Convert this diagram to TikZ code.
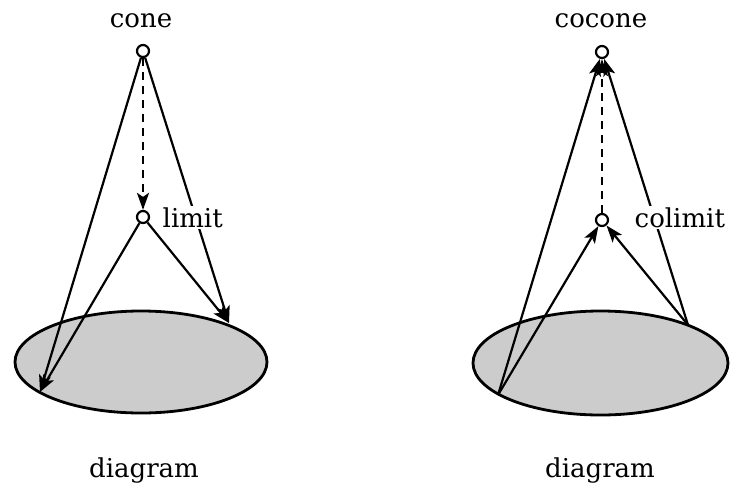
\documentclass[tikz,border=0pt]{standalone}
\usepackage{fontspec}
\setmainfont{DejaVu Serif}
\usetikzlibrary{arrows.meta}
\begin{document}
\begin{tikzpicture}[x=1pt,y=-1pt,
  dot/.style={circle,draw,line width=2.2pt,fill=white,minimum size=12pt,inner sep=0pt},
  blob/.style={draw,line width=2.8pt,fill=black!20},
  edge/.style={line width=2.2pt},
  arr/.style={edge,-{Stealth[length=17pt,width=12pt,inset=4pt]}},
  lbl/.style={font=\fontsize{26}{31}\selectfont,inner sep=1.5pt},
  wlbl/.style={lbl,fill=white}]
\useasboundingbox (0,0) rectangle (739,488);
% left: cone / limit
\draw[blob] (141,362) ellipse [x radius=126, y radius=51];
\node[dot] (cone) at (143,51) {};
\node[dot] (limit) at (143,217) {};
\coordinate (l1) at (40,392);
\coordinate (l2) at (229,323);
\draw[arr] (cone) -- (l1);
\draw[arr] (cone) -- (l2);
\draw[arr] (limit) -- (l1);
\draw[arr] (limit) -- (l2);
\draw[arr,dash pattern=on 8pt off 6pt] (cone) -- (limit);
\node[lbl,anchor=base] (conet) at (141,27) {cone};
\node[wlbl,anchor=base west] (limitt) at (161,227) {limit};
\node[lbl,anchor=base] (diag1) at (144,477) {diagram};
% right: cocone / colimit
\draw[blob] (600.5,363) ellipse [x radius=127.5, y radius=52];
\node[dot] (cocone) at (602,52) {};
\node[dot] (colimit) at (602,220) {};
\coordinate (r1) at (498,395);
\coordinate (r2) at (688,325);
\draw[arr] (r1) -- (cocone);
\draw[arr] (r2) -- (cocone);
\draw[arr] (r1) -- (colimit);
\draw[arr] (r2) -- (colimit);
\draw[arr,dash pattern=on 8pt off 6pt] (colimit) -- (cocone);
\node[lbl,anchor=base] (coconet) at (601,27) {cocone};
\node[wlbl,anchor=base west] (colimitt) at (633,227) {colimit};
\node[lbl,anchor=base] (diag2) at (600,477) {diagram};
\end{tikzpicture}
\end{document}
